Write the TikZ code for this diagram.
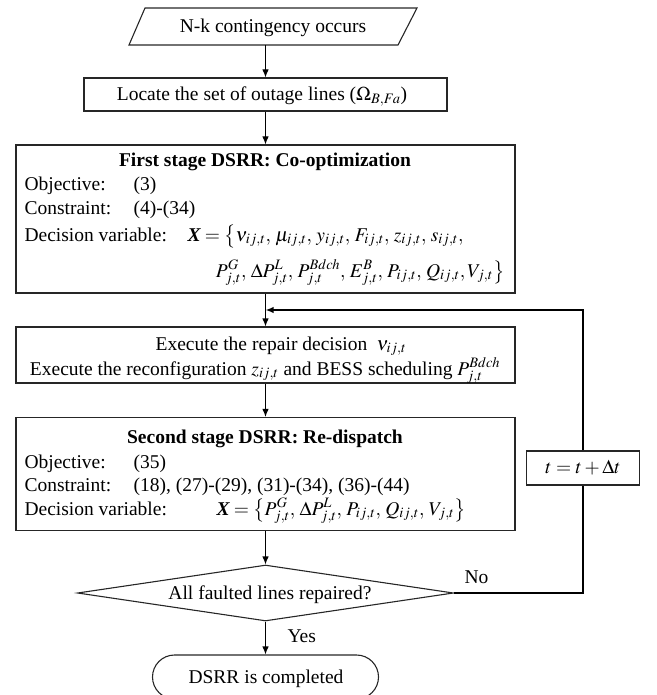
\documentclass[tikz,border=0pt]{standalone}
\usepackage{mathptmx}
\usepackage{fontspec}
\setmainfont{Liberation Serif}
\usetikzlibrary{arrows.meta,shapes.geometric,shapes.misc}
\newcommand{\bX}{\mbox{\bfseries\itshape X}}
\begin{document}
\begin{tikzpicture}[x=1pt,y=-1pt,
  font=\fontsize{19.5}{23}\selectfont,
  line width=1.1pt,
  box/.style={draw=black!85, rectangle, inner sep=0pt},
  txt/.style={inner sep=0pt, anchor=base west},
  ctxt/.style={inner sep=0pt, anchor=base},
  arr/.style={-{Latex[length=8pt,width=6.5pt]}},
  loopline/.style={line width=1.7pt}]
\useasboundingbox (0,0) rectangle (656,695);
\clip (0,0) rectangle (656,695);

% start parallelogram
\draw[draw=black!85] (145,8) -- (417,8) -- (398,45) -- (129,45) -- cycle;
\node[ctxt] (start) at (273,33) {N-k contingency occurs};
\coordinate (startb) at (265.5,45);

% locate box
\node[box, minimum width=363pt, minimum height=33pt] (b1) at (265.5,94.5) {};
\node[ctxt] (b1t) at (262,101) {Locate the set of outage lines ($\Omega_{B,Fa}$)};

% first stage
\node[box, minimum width=499pt, minimum height=148pt] (b2) at (265.5,219) {};
\node[ctxt] (b2t) at (265,166) {\bfseries First stage DSRR: Co-optimization};
\node[txt] (o1) at (24,190) {Objective:};
\node[txt] (o1v) at (133,190) {(3)};
\node[txt] (c1) at (24,214) {Constraint:};
\node[txt] (c1v) at (133,214) {(4)-(34)};
\node[txt] (d1) at (24,241) {Decision variable:};
\node[txt] (d1v) at (187,241) {$\bX=\bigl\{\nu_{ij,t},\,\mu_{ij,t},\,y_{ij,t},\,F_{ij,t},\,z_{ij,t},\,s_{ij,t},$};
\node[inner sep=0pt, anchor=base east] (d1w) at (505,277) {$P^{G}_{j,t},\,\Delta P^{L}_{j,t},\,P^{Bdch}_{j,t},\,E^{B}_{j,t},\,P_{ij,t},\,Q_{ij,t},V_{j,t}\bigr\}$};

% execute
\node[box, minimum width=499pt, minimum height=56pt] (b3) at (265.5,355) {};
\node[ctxt] (b3a) at (281,350) {Execute the repair decision $\;\nu_{ij,t}$};
\node[ctxt] (b3b) at (265,375) {Execute the reconfiguration $z_{ij,t}$ and BESS scheduling $P^{Bdch}_{j,t}$};

% second stage
\node[box, minimum width=499pt, minimum height=113pt] (b4) at (265.5,474) {};
\node[ctxt] (b4t) at (265,443) {\bfseries Second stage DSRR: Re-dispatch};
\node[txt] (o2) at (24,468) {Objective:};
\node[txt] (o2v) at (133,468) {(35)};
\node[txt] (c2) at (24,491) {Constraint:};
\node[txt] (c2v) at (133,491) {(18), (27)-(29), (31)-(34), (36)-(44)};
\node[txt] (d2) at (24,515) {Decision variable:};
\node[txt] (d2v) at (216,515) {$\bX=\bigl\{P^{G}_{j,t},\,\Delta P^{L}_{j,t},\,P_{ij,t},\,Q_{ij,t},\,V_{j,t}\bigr\}$};

% decision diamond
\node[draw=black!85, diamond, aspect=6.7, inner sep=0pt, minimum width=376pt, minimum height=56pt] (dia) at (265.5,593) {};
\node[ctxt] (diat) at (270,599) {All faulted lines repaired?};

% terminal
\node[draw=black!85, rounded rectangle, minimum width=226pt, minimum height=44pt, inner sep=0pt] (end) at (265.5,677) {};
\node[ctxt] (endt) at (266,683) {DSRR is completed};

% t box
\node[box, minimum width=113pt, minimum height=34pt] (tb) at (583,468) {$t=t+\Delta t$};

% labels
\node[txt] (no) at (464,583) {No};
\node[txt] (yes) at (287,642) {Yes};

% connectors
\draw[arr] (startb) -- (b1.north);
\draw[arr] (b1.south) -- (b2.north);
\draw[arr] (b2.south) -- (b3.north);
\draw[arr] (b3.south) -- (b4.north);
\draw[arr] (b4.south) -- (dia.north);
\draw[arr] (dia.south) -- (end.north);

\coordinate (lc1) at (583,593);
\coordinate (lc2) at (583,310);
\coordinate (lc3) at (265.5,310);
\draw[loopline] (dia.east) -- (lc1) -- (tb.south);
\draw[loopline, arr] (tb.north) -- (lc2) -- (lc3);
\end{tikzpicture}
\end{document}
